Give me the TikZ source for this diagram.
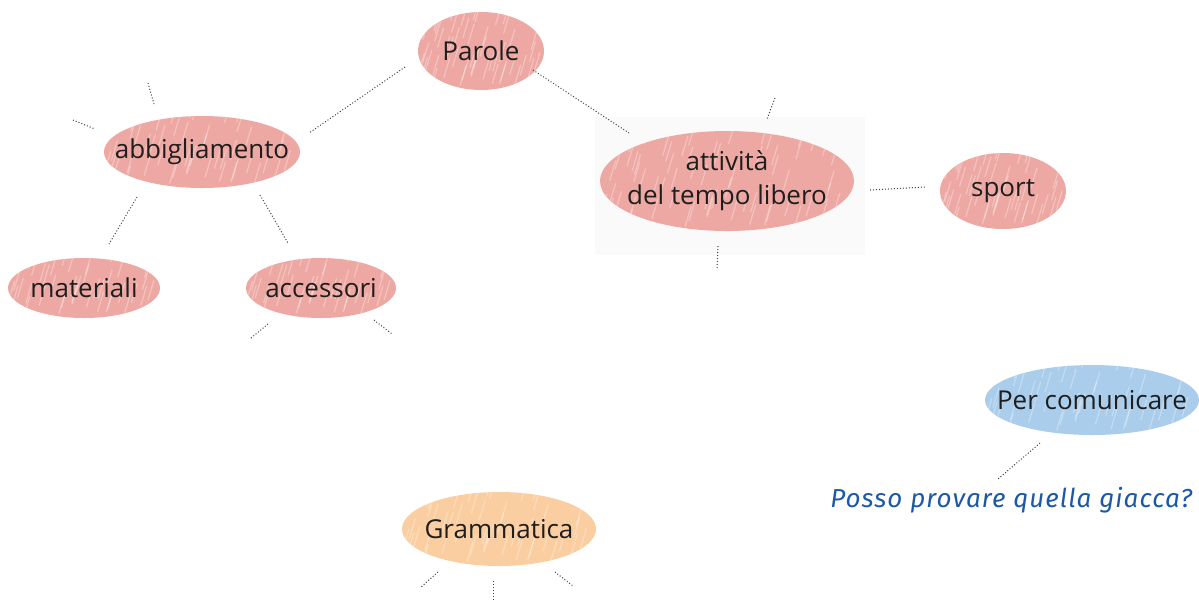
\documentclass[tikz,border=0pt]{standalone}
\usepackage{fontspec}
\setmainfont{Open Sans}
\newfontfamily\handfont[LetterSpace=4]{Fira Sans}
\usetikzlibrary{shapes.geometric,calc}
\definecolor{pinkfill}{RGB}{238,168,163}
\definecolor{bluefill}{RGB}{170,205,236}
\definecolor{orangefill}{RGB}{250,206,160}
\definecolor{textdark}{RGB}{30,30,30}
\definecolor{handblue}{RGB}{28,88,168}
\newcommand{\nb}[1]{\makebox[0pt][c]{#1}}
\begin{document}
\begin{tikzpicture}[x=0.5pt,y=-0.5pt,
  bubble/.style={ellipse,inner sep=0pt,font=\fontsize{13}{17}\selectfont,text=textdark,
    path picture={
      \pgfmathsetseed{7}
      \foreach \i in {1,...,70}{
        \pgfmathsetmacro{\px}{rnd}
        \pgfmathsetmacro{\py}{rnd}
        \draw[white,opacity=0.3,line width=0.6pt]
          ($(path picture bounding box.south west)!\px!(path picture bounding box.south east)+(0,-\py*90)$)
          -- ++(6,-20);
      }
    }},
  pinkb/.style={bubble,fill=pinkfill},
  blueb/.style={bubble,fill=bluefill},
  orangeb/.style={bubble,fill=orangefill},
  conn/.style={densely dotted,line width=0.5pt,black!75}
]
\useasboundingbox (0,0) rectangle (1199,602);
\fill[white] (0,0) rectangle (1199,602);
\fill[black!2] (595,117) rectangle (865,255);

% bubbles (sizes in pt = half the pixel size)
\node[pinkb,minimum width=63pt,minimum height=39pt] (parole) at (481,51) {\nb{Parole}};
\node[pinkb,minimum width=98pt,minimum height=36pt] (abbig) at (202,152) {\nb{abbigliamento}};
\node[pinkb,minimum width=76pt,minimum height=30pt] (mater) at (84,288) {\nb{materiali}};
\node[pinkb,minimum width=75pt,minimum height=30pt] (acces) at (321,288) {\nb{accessori}};
\node[pinkb,minimum width=127pt,minimum height=50pt] (attiv) at (727,181) {\nb{\begin{tabular}{@{}c@{}}attività\\del tempo libero\end{tabular}}};
\node[pinkb,minimum width=63pt,minimum height=38pt] (sport) at (1003,191) {\nb{sport}};
\node[blueb,minimum width=107pt,minimum height=35pt] (percom) at (1092,400) {\nb{Per comunicare}};
\node[orangeb,minimum width=97pt,minimum height=37pt] (gramm) at (499,529) {\nb{Grammatica}};
\node[font=\handfont\itshape\fontsize{13}{15}\selectfont,text=handblue,anchor=west,inner sep=0pt] (posso) at (830,500) {Posso provare quella giacca?};

% connector end points
\coordinate (p1) at (405,67);   \coordinate (a1) at (309,133);
\coordinate (p2) at (533,70);   \coordinate (t1) at (629,133);
\coordinate (a2) at (137,197);  \coordinate (m1) at (109,244);
\coordinate (a3) at (260,195);  \coordinate (c1) at (288,243);
\coordinate (t2) at (870,190);  \coordinate (s1) at (925,187);
\coordinate (q1) at (1040,443); \coordinate (q2) at (998,479);

\draw[conn] (p1) -- (a1);
\draw[conn] (p2) -- (t1);
\draw[conn] (a2) -- (m1);
\draw[conn] (a3) -- (c1);
\draw[conn] (t2) -- (s1);
\draw[conn] (q1) -- (q2);

% stubs
\coordinate (sa1) at (148,83);  \coordinate (sa1e) at (154,104);
\coordinate (sa2) at (73,120);  \coordinate (sa2e) at (95,129);
\coordinate (sc1) at (268,324); \coordinate (sc1e) at (251,338);
\coordinate (sc2) at (374,320); \coordinate (sc2e) at (392,334);
\coordinate (st1) at (775,98);  \coordinate (st1e) at (767,119);
\coordinate (st2) at (718,246); \coordinate (st2e) at (717,270);
\coordinate (sg1) at (438,572); \coordinate (sg1e) at (421,587);
\coordinate (sg2) at (493,581); \coordinate (sg2e) at (493,602);
\coordinate (sg3) at (555,572); \coordinate (sg3e) at (573,586);
\foreach \s in {sa1,sa2,sc1,sc2,st1,st2,sg1,sg2,sg3}{
  \draw[conn] (\s) -- (\s e);
}
\end{tikzpicture}
\end{document}
